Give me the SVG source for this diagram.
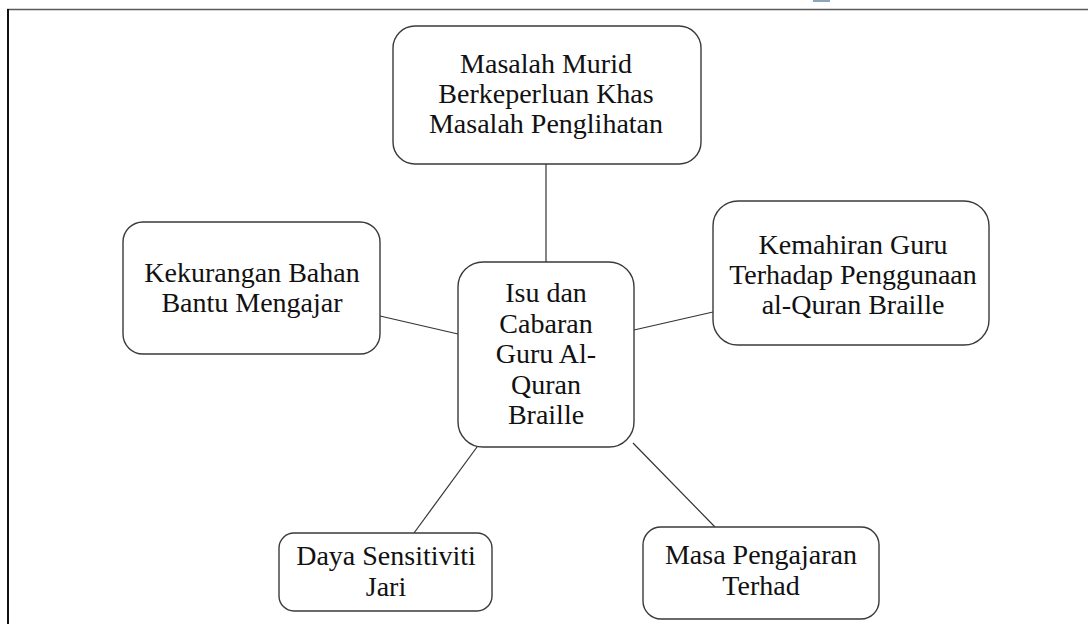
<svg xmlns="http://www.w3.org/2000/svg" width="1089" height="624" viewBox="0 0 1089 624">
<style>
.box{fill:#fff;stroke:#3a3a3a;stroke-width:1.4}
.t{font-family:"Liberation Serif","Times New Roman",serif;font-size:28px;fill:#111;text-anchor:middle}
.c{stroke:#333;stroke-width:1.2;fill:none}
</style>
<rect width="1089" height="624" fill="#fff"/>
<g id="frame">
<line x1="7" y1="9.5" x2="1088" y2="9.5" stroke="#5a5a5a" stroke-width="1.6"/>
<line x1="8" y1="9" x2="8" y2="624" stroke="#111" stroke-width="2"/>
<rect x="813" y="0" width="17" height="2" fill="#8aa6b8"/>
</g>
<g id="connectors">
<line class="c" x1="546" y1="164" x2="546" y2="262"/>
<line class="c" x1="380" y1="316" x2="458" y2="334"/>
<line class="c" x1="634" y1="330" x2="713" y2="312"/>
<line class="c" x1="477" y1="447" x2="414" y2="533"/>
<line class="c" x1="633" y1="443" x2="715" y2="527"/>
</g>
<g id="n-top">
<rect class="box" x="393" y="26" width="308" height="138" rx="22"/>
<text class="t" x="546" y="73">Masalah Murid</text>
<text class="t" x="546" y="103">Berkeperluan Khas</text>
<text class="t" x="546" y="133">Masalah Penglihatan</text>
</g>
<g id="n-center">
<rect class="box" x="458" y="262" width="176" height="185" rx="25"/>
<text class="t" x="546" y="302">Isu dan</text>
<text class="t" x="546" y="332.5">Cabaran</text>
<text class="t" x="546" y="363">Guru Al-</text>
<text class="t" x="546" y="393.5">Quran</text>
<text class="t" x="546" y="424">Braille</text>
</g>
<g id="n-left">
<rect class="box" x="123" y="222" width="257" height="132" rx="20"/>
<text class="t" x="252" y="282">Kekurangan Bahan</text>
<text class="t" x="252" y="312">Bantu Mengajar</text>
</g>
<g id="n-right">
<rect class="box" x="713" y="201" width="276" height="144" rx="25"/>
<text class="t" x="853" y="254">Kemahiran Guru</text>
<text class="t" x="853" y="284">Terhadap Penggunaan</text>
<text class="t" x="853" y="314">al-Quran Braille</text>
</g>
<g id="n-bl">
<rect class="box" x="279" y="533" width="213" height="78" rx="15"/>
<text class="t" x="386" y="565">Daya Sensitiviti</text>
<text class="t" x="386" y="596">Jari</text>
</g>
<g id="n-br">
<rect class="box" x="643" y="527" width="236" height="92" rx="18"/>
<text class="t" x="761" y="564">Masa Pengajaran</text>
<text class="t" x="761" y="595">Terhad</text>
</g>
</svg>
